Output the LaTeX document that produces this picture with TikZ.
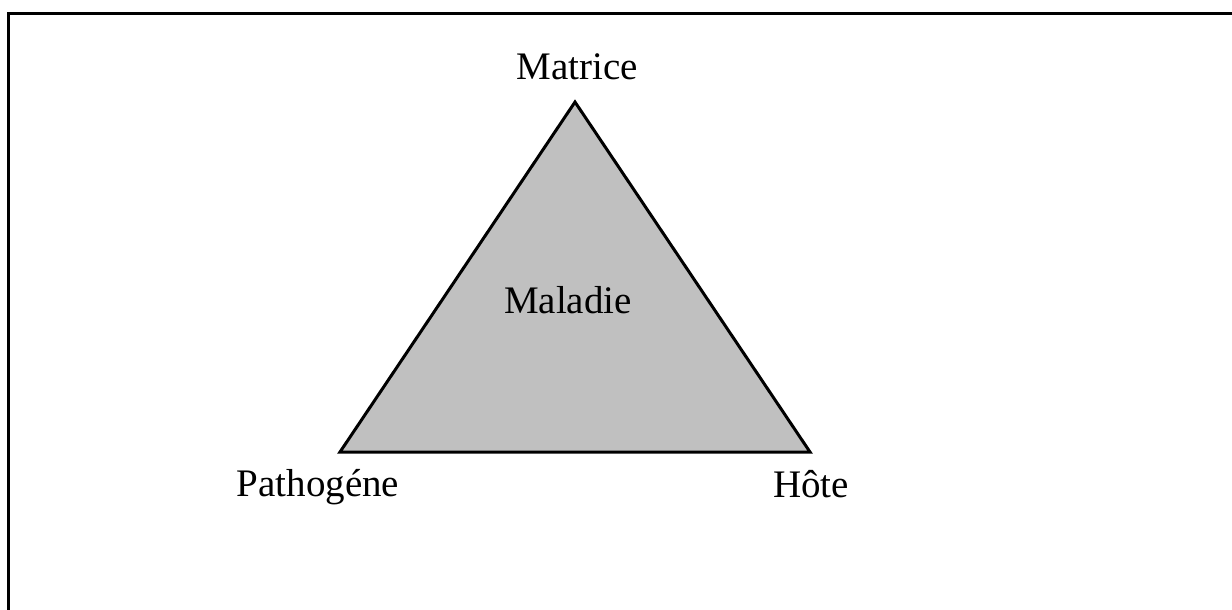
\documentclass[tikz,border=0pt]{standalone}
\usepackage{fontspec}
\setmainfont{Liberation Serif}
\usetikzlibrary{positioning}

\begin{document}
\begin{tikzpicture}[
        x=0.5pt,
        y=-0.5pt,
        line cap=butt,
        line join=miter,
        every node/.style={font=\fontsize{19.5}{23}\selectfont, inner sep=0pt}
    ]

        % page size
        \useasboundingbox (0,0) rectangle (1232,610);

        % frame (left and top sides only)
        \draw[black, line width=1.75pt] (8.5,610) -- (8.5,13.5) -- (1232,13.5);

        % the three corners of the triangle
        \coordinate (M) at (575,102);
        \coordinate (P) at (340,452);
        \coordinate (H) at (810,452);

        % triangle
        \filldraw[fill={rgb,255:red,192;green,192;blue,192}, draw=black, line width=1.5pt]
            (M) -- (P) -- (H) -- cycle;

        % labels
        \node[anchor=base] (matrice)    at (577,79.5)  {Matrice};
        \node[anchor=base] (maladie)    at (568,313)   {Maladie};
        \node[anchor=base] (pathogene)  at (318,496)   {Pathogéne};
        \node[anchor=base] (hote)       at (811,497)   {Hôte};

    \end{tikzpicture}
\end{document}
